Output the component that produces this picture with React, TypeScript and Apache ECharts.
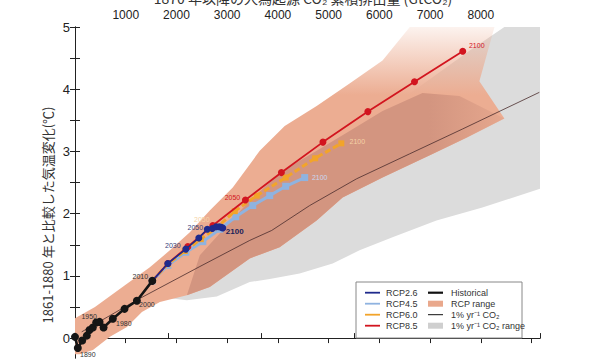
import React, { useEffect, useRef } from 'react';
import * as echarts from 'echarts';

// ---- data (x: cumulative CO2 since 1870 in GtCO2, y: temperature change °C) ----
const histX = [0, 55, 142, 233, 286, 351, 418, 484, 563, 746, 977, 1220, 1524];
const histY = [0.02, -0.16, -0.04, 0.04, 0.13, 0.17, 0.25, 0.26, 0.17, 0.31, 0.47, 0.6, 0.92];
const histLabels = ['', '1890', '', '', '', '', '1950', '', '', '1980', '', '2000', '2010'];

const rcp26X = [1524, 1831, 2185, 2441, 2608, 2707, 2785, 2845, 2884, 2913];
const rcp26Y = [0.92, 1.2, 1.43, 1.61, 1.75, 1.76, 1.79, 1.79, 1.78, 1.77];
const rcp26Labels = ['', '', '2030', '', '2050', '', '', '', '', '2100'];

const rcp45X = [1524, 1831, 2185, 2520, 2854, 3169, 3504, 3839, 4154, 4528];
const rcp45Y = [0.92, 1.17, 1.38, 1.55, 1.75, 1.95, 2.13, 2.29, 2.44, 2.58];
const rcp45Labels = ['', '', '', '', '', '', '', '', '', '2100'];

const rcp60X = [1524, 1831, 2165, 2480, 2815, 3150, 3583, 4154, 4734, 5250];
const rcp60Y = [0.92, 1.19, 1.4, 1.59, 1.79, 2.04, 2.29, 2.58, 2.89, 3.13];
const rcp60Labels = ['', '', '', '', '2050', '', '', '', '', '2100'];

const rcp85X = [1524, 1831, 2224, 2717, 3360, 4069, 4888, 5774, 6693, 7644];
const rcp85Y = [0.92, 1.2, 1.47, 1.81, 2.22, 2.66, 3.15, 3.64, 4.12, 4.61];
const rcp85Labels = ['', '', '', '', '2050', '', '', '', '', '2100'];

const pctX = [132, 1215, 2461, 3445, 3878, 4626, 5551, 6594, 7638, 9154];
const pctY = [0.1, 0.61, 1.15, 1.57, 1.73, 2.13, 2.56, 2.96, 3.36, 3.95];

const rcpRangeTop = [[0, 0.32], [394, 0.5], [984, 0.85], [1476, 1.14], [1870, 1.41], [2264, 1.7], [2657, 2.05], [3110, 2.42], [3642, 3.01], [4134, 3.41], [4764, 3.73], [5413, 4.09], [6063, 4.46], [6600, 5.0], [8270, 5.0], [7972, 4.13], [8465, 3.53]];
const rcpRangeBottom = [[7717, 3.22], [7047, 2.96], [6063, 2.58], [5276, 2.26], [4764, 1.89], [4035, 1.46], [3445, 1.28], [2657, 0.82], [2205, 0.69], [1673, 0.58], [1319, 0.42], [1024, 0.18], [689, 0.02], [354, -0.19], [98, -0.26], [0, -0.26]];
const rcpCoreTop = [[2461, 1.33], [3445, 2.21], [4094, 2.69], [4764, 3.01], [5413, 3.33], [6063, 3.65], [6850, 3.94], [7579, 3.89], [8465, 3.53]];
const pctRange = [[1083, 0.77], [2461, 1.57], [4429, 2.69], [6398, 3.81], [7776, 4.62], [8465, 5.0], [9167, 5.0], [9167, 2.4], [8031, 2.1], [7126, 1.89], [6260, 1.62], [5610, 1.41], [5079, 1.2], [4429, 1.04], [3839, 0.95], [3445, 0.9], [2795, 0.67], [2205, 0.61], [1673, 0.66], [1280, 0.77]];

const topTickValues = [1000, 2000, 3000, 4000, 5000, 6000, 7000, 8000, 9000];
const topLabelValues = [1000, 2000, 3000, 4000, 5000, 6000, 7000, 8000];
const yTickValues = [0, 0.5, 1, 1.5, 2, 2.5, 3, 3.5, 4, 4.5, 5];
const yLabelValues = [0, 1, 2, 3, 4, 5];

const legendLeft = ['RCP2.6', 'RCP4.5', 'RCP6.0', 'RCP8.5'];
const legendRight = ['Historical', 'RCP range', '1% yr⁻¹ CO₂', '1% yr⁻¹ CO₂ range'];

const yTitle = '1861-1880 年と比較した気温変化(℃)';
const topTitle = '1870 年以降の人為起源 CO₂ 累積排出量 (GtCO₂)';

const FONT = '"Liberation Sans", Arial, sans-serif';
const JFONT = '"Noto Sans CJK JP", sans-serif';

const C26 = '#1f2a8c';
const C45 = '#8fb3e0';
const C60 = '#f2a42a';
const C85 = '#d2151f';
const CH = '#151515';
const SALMON = '#ECAD92';
const SALMON_DARK = '#D39580';
const GREY = '#DCDCDC';

function polySeries(pts: number[][], fill: any, z: number) {
  return {
    type: 'custom',
    xAxisIndex: 0,
    yAxisIndex: 0,
    silent: true,
    z,
    clip: true,
    data: [[0, 0]],
    renderItem: (_p: any, api: any) => ({
      type: 'polygon',
      shape: { points: pts.map((p) => api.coord(p)) },
      style: { fill },
    }),
  };
}

function lineSeries(
  xs: number[], ys: number[], labels: string[], color: string, width: number,
  symbol: string, size: number, z: number, labelStyle: any, offsets: Record<string, number[]>,
  lineType: any = 'solid', special: Record<string, any> = {}
) {
  return {
    type: 'line',
    xAxisIndex: 0,
    yAxisIndex: 0,
    z,
    symbol,
    symbolSize: size,
    showAllSymbol: true,
    lineStyle: { color, width, type: lineType },
    itemStyle: { color },
    data: xs.map((x, i) => {
      const item: any = { value: [x, ys[i]] };
      if (labels[i]) {
        item.label = {
          show: true,
          formatter: labels[i],
          position: 'inside',
          offset: offsets[labels[i]] || [0, 0],
          fontSize: 7,
          fontFamily: FONT,
          ...labelStyle,
          ...(special[labels[i]] || {}),
        };
      }
      return item;
    }),
  };
}

export default function App() {
  const ref = useRef<HTMLDivElement>(null);
  useEffect(() => {
    if (!ref.current) return;
    const chart = echarts.init(ref.current, undefined, { renderer: 'svg' });
    const axisLineStyle = { color: '#222', width: 1 };
    const lx1 = 365, lx2 = 428, rows = [292.7, 303.7, 314.7, 325.7];
    const legendGraphics: any[] = [
      { type: 'rect', shape: { x: 356, y: 282, width: 166, height: 56 }, style: { fill: '#fff', stroke: '#888', lineWidth: 1 }, z: 100 },
    ];
    const leftColors = [C26, C45, C60, C85];
    legendLeft.forEach((t, i) => {
      legendGraphics.push({ type: 'line', shape: { x1: lx1, y1: rows[i], x2: lx1 + 15, y2: rows[i] }, style: { stroke: leftColors[i], lineWidth: 1.8 }, z: 101 });
      legendGraphics.push({ type: 'text', x: lx1 + 21, y: rows[i], style: { text: t, fontSize: 9, fontFamily: FONT, fill: '#333', verticalAlign: 'middle' }, z: 101 });
    });
    legendRight.forEach((t, i) => {
      if (i === 0) legendGraphics.push({ type: 'line', shape: { x1: lx2, y1: rows[i], x2: lx2 + 15, y2: rows[i] }, style: { stroke: '#111', lineWidth: 2.2 }, z: 101 });
      if (i === 1) legendGraphics.push({ type: 'rect', shape: { x: lx2, y: rows[i] - 3, width: 15, height: 6 }, style: { fill: '#E9A88C' }, z: 101 });
      if (i === 2) legendGraphics.push({ type: 'line', shape: { x1: lx2, y1: rows[i], x2: lx2 + 15, y2: rows[i] }, style: { stroke: '#111', lineWidth: 1 }, z: 101 });
      if (i === 3) legendGraphics.push({ type: 'rect', shape: { x: lx2, y: rows[i] - 3, width: 15, height: 6 }, style: { fill: '#CFCFCF' }, z: 101 });
      legendGraphics.push({ type: 'text', x: lx2 + 23, y: rows[i], style: { text: t, fontSize: 9, fontFamily: FONT, fill: '#333', verticalAlign: 'middle' }, z: 101 });
    });

    chart.setOption({
      animation: false,
      backgroundColor: '#fff',
      grid: { left: 75, right: 60, top: 27, bottom: 2, containLabel: false },
      xAxis: [
        {
          type: 'value', position: 'top', min: 0, max: 9167,
          axisLine: { show: true, lineStyle: axisLineStyle },
          axisTick: { show: true, inside: true, length: 5, customValues: topTickValues, lineStyle: axisLineStyle },
          axisLabel: { show: true, customValues: topLabelValues, formatter: (v: number) => String(v), fontSize: 12, color: '#222', margin: 6, fontFamily: FONT },
          splitLine: { show: false },
        },
        {
          type: 'value', position: 'bottom', min: 0, max: 2500, interval: 500,
          axisLine: { show: true, lineStyle: axisLineStyle },
          axisTick: { show: true, inside: true, length: 5, lineStyle: axisLineStyle },
          axisLabel: { show: false },
          splitLine: { show: false },
        },
      ],
      yAxis: [
        {
          type: 'value', position: 'left', min: -0.32, max: 5,
          axisLine: { show: true, lineStyle: axisLineStyle },
          axisTick: { show: true, inside: true, length: 5, customValues: yTickValues, lineStyle: axisLineStyle },
          axisLabel: { show: true, customValues: yLabelValues, formatter: (v: number) => String(v), fontSize: 13, color: '#222', margin: 5, fontFamily: FONT },
          splitLine: { show: false },
        },
        {
          type: 'value', position: 'right', min: -0.32, max: 5,
          axisLine: { show: true, lineStyle: axisLineStyle },
          axisTick: { show: true, inside: true, length: 5, customValues: yTickValues, lineStyle: axisLineStyle },
          axisLabel: { show: false },
          splitLine: { show: false },
        },
      ],
      series: [
        polySeries(pctRange, GREY, 1),
        polySeries([...rcpRangeTop, ...rcpRangeBottom], {
          type: 'linear', x: 0, y: 27, x2: 0, y2: 95, global: true,
          colorStops: [
            { offset: 0, color: 'rgba(236,173,146,0.15)' },
            { offset: 1, color: SALMON },
          ],
        }, 2),
        polySeries([...rcpCoreTop, ...rcpRangeBottom.slice(0, 9)], {
          type: 'linear', x: 260, y: 0, x2: 520, y2: 0, global: true,
          colorStops: [
            { offset: 0, color: SALMON_DARK },
            { offset: 0.65, color: SALMON_DARK },
            { offset: 1, color: 'rgba(211,149,128,0.1)' },
          ],
        }, 3),
        {
          type: 'line', xAxisIndex: 0, yAxisIndex: 0, z: 4, symbol: 'none',
          lineStyle: { color: '#4a2c2c', width: 0.8 },
          data: pctX.map((x, i) => [x, pctY[i]]),
        },
        lineSeries(rcp45X, rcp45Y, rcp45Labels, C45, 3, 'rect', 7, 5, { color: '#c9d8ef' }, { '2100': [15, 0] }),
        lineSeries(rcp60X, rcp60Y, rcp60Labels, C60, 3, 'rect', 6, 6, { color: '#f6d3a6' },
          { '2050': [-16, -7], '2100': [16, -2] }, [6, 3]),
        lineSeries(rcp85X, rcp85Y, rcp85Labels, C85, 1.8, 'circle', 7, 7, { color: C85 },
          { '2050': [-13, -2], '2100': [14, -6] }),
        lineSeries(rcp26X, rcp26Y, rcp26Labels, C26, 1.6, 'circle', 7, 8, { color: '#3a3f7a' },
          { '2030': [-13, -4], '2050': [-12, -2], '2100': [12, 4] }, 'solid',
          { '2100': { fontWeight: 'bold', fontSize: 8, color: '#1c1f5a' } }),
        lineSeries(histX, histY, histLabels, CH, 2.6, 'circle', 8, 9, { color: '#333' },
          { '1890': [10, 6], '1950': [-7, -6], '1980': [11, 5], '2000': [10, 4], '2010': [-12, -4] }),
      ],
      graphic: [
        { type: 'text', x: 47, y: 215, rotation: Math.PI / 2, style: { text: yTitle, fontSize: 13, fontFamily: JFONT, fill: '#333', align: 'center', verticalAlign: 'middle' } },
        { type: 'text', x: 303, y: -2, style: { text: topTitle, fontSize: 14, fontFamily: JFONT, fill: '#333', align: 'center', verticalAlign: 'middle' } },
        ...legendGraphics,
      ],
    });
    return () => chart.dispose();
  }, []);
  return <div ref={ref} style={{ position: 'absolute', left: 0, top: 0, width: 600, height: 360 }} />;
}
